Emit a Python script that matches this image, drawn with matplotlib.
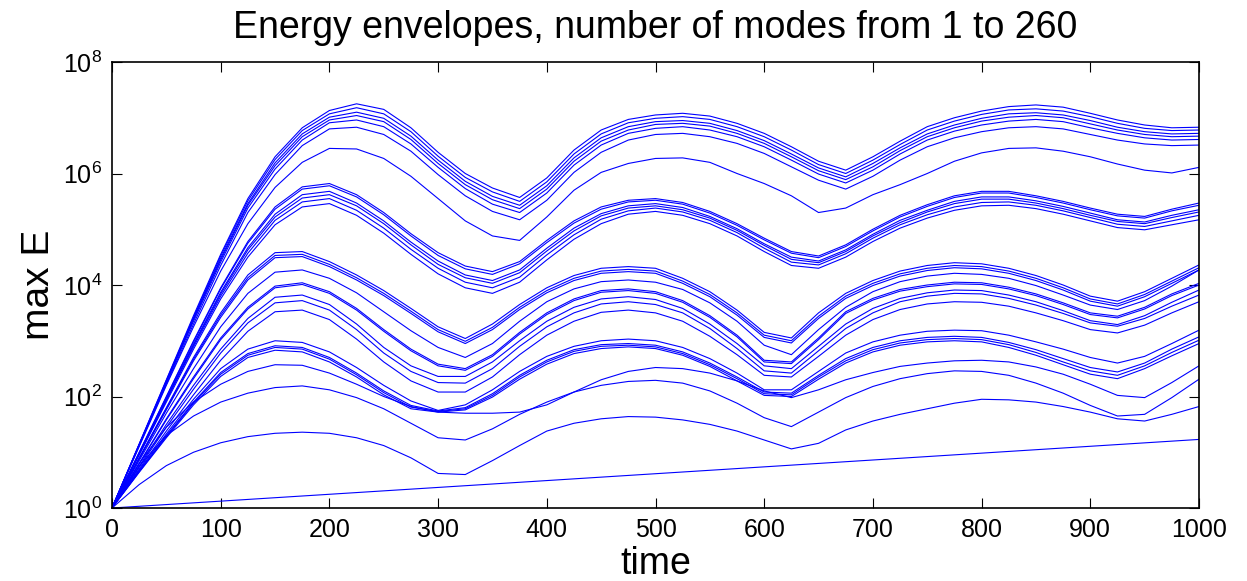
import numpy as np
import matplotlib
matplotlib.use("Agg")
from matplotlib import pyplot as plt

plt.rcParams["font.family"] = ["Liberation Sans", "DejaVu Sans"]

# sample times shared by every envelope
t = np.arange(0, 1001, 25)

# log10 of the energy envelopes, one list per mode, sampled at t
top_bundle = [
    [0, 1.15, 2.3, 3.45, 4.55, 5.55, 6.3, 6.82, 7.13, 7.25, 7.15, 6.82, 6.38, 6.0, 5.74, 5.57, 5.92, 6.42, 6.78, 6.97,
     7.05, 7.08, 7.03, 6.9, 6.72, 6.48, 6.22, 6.06, 6.3, 6.58, 6.84, 7.0, 7.12, 7.2, 7.23, 7.19, 7.08, 6.96, 6.87, 6.82, 6.83],
    [0, 1.14, 2.29, 3.42, 4.52, 5.51, 6.25, 6.77, 7.07, 7.18, 7.07, 6.75, 6.31, 5.93, 5.67, 5.50, 5.85, 6.35, 6.71, 6.91,
     6.99, 7.02, 6.97, 6.84, 6.66, 6.42, 6.16, 6.0, 6.24, 6.52, 6.78, 6.94, 7.06, 7.14, 7.16, 7.12, 7.02, 6.90, 6.81, 6.77, 6.78],
    [0, 1.14, 2.27, 3.40, 4.48, 5.46, 6.19, 6.71, 7.01, 7.10, 6.99, 6.67, 6.24, 5.86, 5.59, 5.43, 5.78, 6.28, 6.64, 6.84,
     6.93, 6.95, 6.90, 6.77, 6.59, 6.35, 6.10, 5.94, 6.18, 6.46, 6.71, 6.87, 6.99, 7.07, 7.09, 7.05, 6.95, 6.83, 6.75, 6.71, 6.72],
    [0, 1.13, 2.26, 3.38, 4.45, 5.43, 6.14, 6.66, 6.96, 7.04, 6.93, 6.61, 6.18, 5.80, 5.53, 5.37, 5.72, 6.22, 6.58, 6.78,
     6.88, 6.90, 6.85, 6.72, 6.54, 6.30, 6.05, 5.89, 6.12, 6.41, 6.66, 6.82, 6.94, 7.01, 7.04, 7.0, 6.89, 6.78, 6.70, 6.66, 6.67],
    [0, 1.13, 2.25, 3.35, 4.41, 5.38, 6.08, 6.60, 6.91, 6.96, 6.84, 6.53, 6.11, 5.73, 5.45, 5.30, 5.65, 6.15, 6.51, 6.72,
     6.81, 6.84, 6.78, 6.66, 6.48, 6.24, 5.99, 5.83, 6.06, 6.35, 6.60, 6.76, 6.87, 6.94, 6.97, 6.93, 6.82, 6.72, 6.64, 6.60, 6.61],
    [0, 1.12, 2.22, 3.3, 4.35, 5.3, 5.98, 6.5, 6.8, 6.83, 6.7, 6.4, 5.98, 5.6, 5.32, 5.17, 5.52, 6.02, 6.38, 6.6,
     6.7, 6.72, 6.66, 6.54, 6.36, 6.12, 5.88, 5.72, 5.95, 6.24, 6.48, 6.64, 6.75, 6.82, 6.84, 6.8, 6.7, 6.6, 6.53, 6.5, 6.51],
]
top_single = [0, 1.1, 2.2, 3.25, 4.25, 5.1, 5.75, 6.2, 6.45, 6.44, 6.27, 5.95, 5.55, 5.15, 4.88, 4.8, 5.22, 5.7, 6.02, 6.18,
              6.27, 6.28, 6.2, 6.0, 5.82, 5.6, 5.3, 5.38, 5.62, 5.8, 6.0, 6.22, 6.37, 6.45, 6.46, 6.4, 6.3, 6.17, 6.06, 6.01, 6.11]

second_bundle = [
    [0, 1.0, 2.0, 3.0, 3.95, 4.78, 5.4, 5.76, 5.82, 5.62, 5.3, 4.92, 4.58, 4.34, 4.24, 4.42, 4.8, 5.15, 5.4, 5.52,
     5.55, 5.48, 5.32, 5.1, 4.84, 4.6, 4.52, 4.72, 5.0, 5.25, 5.44, 5.6, 5.68, 5.68, 5.6, 5.5, 5.38, 5.27, 5.23, 5.36, 5.47],
    [0, 0.99, 1.99, 2.98, 3.93, 4.75, 5.36, 5.72, 5.78, 5.58, 5.26, 4.88, 4.53, 4.29, 4.19, 4.38, 4.76, 5.11, 5.36, 5.49,
     5.52, 5.45, 5.29, 5.07, 4.81, 4.57, 4.49, 4.69, 4.97, 5.22, 5.41, 5.57, 5.65, 5.65, 5.57, 5.47, 5.35, 5.24, 5.20, 5.33, 5.43],
    [0, 0.98, 1.96, 2.94, 3.87, 4.67, 5.27, 5.62, 5.68, 5.47, 5.15, 4.77, 4.43, 4.18, 4.08, 4.27, 4.66, 5.02, 5.28, 5.42,
     5.46, 5.39, 5.23, 5.01, 4.74, 4.5, 4.43, 4.63, 4.91, 5.16, 5.34, 5.50, 5.58, 5.58, 5.51, 5.41, 5.29, 5.17, 5.13, 5.25, 5.35],
    [0, 0.97, 1.95, 2.92, 3.84, 4.63, 5.22, 5.56, 5.62, 5.42, 5.10, 4.72, 4.37, 4.13, 4.03, 4.22, 4.61, 4.97, 5.24, 5.38,
     5.42, 5.35, 5.2, 4.98, 4.71, 4.46, 4.4, 4.6, 4.88, 5.12, 5.31, 5.46, 5.54, 5.54, 5.47, 5.37, 5.25, 5.14, 5.10, 5.21, 5.31],
    [0, 0.96, 1.93, 2.89, 3.8, 4.57, 5.16, 5.49, 5.55, 5.34, 5.02, 4.64, 4.30, 4.05, 3.95, 4.14, 4.54, 4.90, 5.18, 5.33,
     5.38, 5.31, 5.16, 4.94, 4.66, 4.41, 4.36, 4.56, 4.84, 5.08, 5.26, 5.40, 5.48, 5.49, 5.43, 5.33, 5.21, 5.09, 5.05, 5.15, 5.25],
    [0, 0.95, 1.9, 2.85, 3.75, 4.5, 5.08, 5.4, 5.46, 5.25, 4.93, 4.55, 4.2, 3.95, 3.85, 4.05, 4.45, 4.82, 5.1, 5.27,
     5.32, 5.25, 5.1, 4.88, 4.6, 4.35, 4.3, 4.5, 4.78, 5.02, 5.2, 5.34, 5.42, 5.43, 5.37, 5.27, 5.15, 5.03, 4.99, 5.08, 5.17],
]

third_bundle = [
    [0, 0.9, 1.8, 2.7, 3.5, 4.18, 4.58, 4.6, 4.42, 4.18, 3.9, 3.58, 3.25, 3.04, 3.3, 3.65, 3.95, 4.17, 4.3, 4.33,
     4.3, 4.12, 3.88, 3.55, 3.15, 3.05, 3.5, 3.85, 4.08, 4.25, 4.35, 4.4, 4.38, 4.3, 4.17, 4.0, 3.8, 3.71, 3.88, 4.12, 4.36],
    [0, 0.89, 1.78, 2.67, 3.46, 4.13, 4.53, 4.55, 4.37, 4.13, 3.85, 3.53, 3.2, 2.99, 3.24, 3.6, 3.9, 4.12, 4.25, 4.28,
     4.25, 4.07, 3.83, 3.5, 3.1, 3.0, 3.44, 3.8, 4.03, 4.2, 4.3, 4.35, 4.33, 4.25, 4.12, 3.95, 3.75, 3.66, 3.83, 4.07, 4.31],
    [0, 0.88, 1.76, 2.64, 3.42, 4.09, 4.49, 4.51, 4.33, 4.09, 3.81, 3.49, 3.16, 2.95, 3.2, 3.56, 3.86, 4.08, 4.21, 4.24,
     4.21, 4.03, 3.79, 3.46, 3.06, 2.96, 3.4, 3.76, 3.99, 4.16, 4.26, 4.31, 4.29, 4.21, 4.08, 3.91, 3.71, 3.62, 3.79, 4.03, 4.27],
    [0, 0.85, 1.7, 2.5, 3.25, 3.85, 4.23, 4.27, 4.12, 3.86, 3.52, 3.18, 2.88, 2.7, 2.95, 3.35, 3.7, 3.93, 4.06, 4.09,
     4.05, 3.92, 3.68, 3.35, 2.92, 2.75, 3.2, 3.6, 3.88, 4.06, 4.16, 4.21, 4.19, 4.12, 3.99, 3.82, 3.64, 3.56, 3.72, 3.98, 4.27],
    [0, 0.8, 1.6, 2.35, 3.05, 3.6, 3.98, 4.04, 3.88, 3.58, 3.2, 2.85, 2.58, 2.5, 2.75, 3.15, 3.5, 3.75, 3.9, 3.93,
     3.88, 3.72, 3.45, 3.1, 2.65, 2.62, 3.05, 3.52, 3.76, 3.92, 4.0, 4.05, 4.04, 3.96, 3.84, 3.68, 3.5, 3.44, 3.6, 3.84, 4.03],
    [0, 0.79, 1.58, 2.32, 3.02, 3.57, 3.95, 4.01, 3.85, 3.55, 3.17, 2.82, 2.55, 2.47, 2.72, 3.12, 3.47, 3.72, 3.87, 3.9,
     3.85, 3.69, 3.42, 3.07, 2.62, 2.59, 3.02, 3.49, 3.73, 3.89, 3.97, 4.02, 4.01, 3.93, 3.81, 3.65, 3.47, 3.41, 3.57, 3.81, 4.0],
    [0, 0.75, 1.5, 2.2, 2.85, 3.4, 3.78, 3.82, 3.65, 3.3, 2.88, 2.55, 2.36, 2.36, 2.62, 3.0, 3.35, 3.6, 3.75, 3.79,
     3.74, 3.58, 3.3, 2.95, 2.55, 2.5, 2.9, 3.3, 3.58, 3.76, 3.86, 3.91, 3.9, 3.82, 3.7, 3.54, 3.36, 3.29, 3.45, 3.69, 3.91],
    [0, 0.73, 1.45, 2.13, 2.78, 3.32, 3.68, 3.72, 3.55, 3.2, 2.78, 2.45, 2.25, 2.24, 2.5, 2.9, 3.25, 3.5, 3.66, 3.7,
     3.65, 3.5, 3.22, 2.86, 2.46, 2.42, 2.82, 3.22, 3.5, 3.7, 3.8, 3.85, 3.84, 3.76, 3.64, 3.49, 3.32, 3.26, 3.4, 3.62, 3.82],
    [0, 0.7, 1.38, 2.03, 2.65, 3.17, 3.52, 3.55, 3.38, 3.03, 2.62, 2.28, 2.08, 2.08, 2.35, 2.75, 3.1, 3.35, 3.51, 3.55,
     3.5, 3.35, 3.08, 2.75, 2.38, 2.35, 2.72, 3.1, 3.38, 3.56, 3.66, 3.7, 3.69, 3.62, 3.5, 3.36, 3.2, 3.14, 3.28, 3.5, 3.7],
]

fourth_bundle = [
    [0, 0.68, 1.33, 1.95, 2.5, 2.85, 3.0, 2.97, 2.8, 2.52, 2.2, 1.92, 1.75, 1.85, 2.12, 2.45, 2.72, 2.9, 3.0, 3.03,
     3.0, 2.88, 2.68, 2.42, 2.12, 2.12, 2.45, 2.78, 2.98, 3.1, 3.17, 3.19, 3.18, 3.1, 2.98, 2.85, 2.7, 2.6, 2.72, 2.95, 3.19],
    [0, 0.66, 1.3, 1.9, 2.43, 2.77, 2.91, 2.88, 2.7, 2.42, 2.1, 1.84, 1.74, 1.8, 2.05, 2.38, 2.65, 2.84, 2.93, 2.95,
     2.92, 2.8, 2.6, 2.35, 2.08, 2.06, 2.38, 2.68, 2.88, 3.0, 3.06, 3.08, 3.06, 2.97, 2.84, 2.68, 2.52, 2.44, 2.6, 2.85, 3.07],
    [0, 0.65, 1.28, 1.88, 2.4, 2.74, 2.88, 2.85, 2.67, 2.39, 2.07, 1.81, 1.73, 1.78, 2.02, 2.35, 2.62, 2.81, 2.9, 2.92,
     2.89, 2.77, 2.57, 2.32, 2.05, 2.03, 2.35, 2.64, 2.84, 2.96, 3.02, 3.04, 3.02, 2.93, 2.79, 2.62, 2.46, 2.38, 2.55, 2.79, 3.01],
    [0, 0.64, 1.26, 1.85, 2.36, 2.7, 2.83, 2.8, 2.62, 2.35, 2.03, 1.78, 1.72, 1.76, 1.99, 2.31, 2.58, 2.77, 2.86, 2.89,
     2.86, 2.74, 2.54, 2.28, 2.02, 2.0, 2.31, 2.6, 2.8, 2.92, 2.98, 3.0, 2.98, 2.88, 2.74, 2.57, 2.4, 2.32, 2.5, 2.73, 2.95],
]

low_modes = [
    [0, 0.8, 1.45, 1.9, 2.22, 2.45, 2.57, 2.56, 2.42, 2.22, 2.0, 1.82, 1.72, 1.7, 1.7, 1.72, 1.85, 2.08, 2.3, 2.45,
     2.52, 2.5, 2.42, 2.28, 2.1, 1.98, 2.12, 2.3, 2.43, 2.54, 2.6, 2.64, 2.65, 2.62, 2.53, 2.4, 2.22, 2.02, 1.98, 2.25, 2.55],
    [0, 0.75, 1.3, 1.65, 1.9, 2.06, 2.16, 2.19, 2.12, 1.98, 1.78, 1.52, 1.26, 1.22, 1.42, 1.68, 1.9, 2.08, 2.2, 2.27,
     2.29, 2.24, 2.1, 1.88, 1.62, 1.46, 1.72, 1.98, 2.18, 2.32, 2.41, 2.46, 2.45, 2.38, 2.24, 2.06, 1.84, 1.65, 1.68, 1.98, 2.31],
    [0, 0.42, 0.76, 1.0, 1.17, 1.28, 1.34, 1.36, 1.34, 1.26, 1.12, 0.9, 0.62, 0.6, 0.85, 1.12, 1.38, 1.52, 1.6, 1.64,
     1.63, 1.58, 1.5, 1.38, 1.22, 1.06, 1.16, 1.4, 1.56, 1.68, 1.78, 1.88, 1.95, 1.94, 1.9, 1.82, 1.72, 1.6, 1.56, 1.68, 1.82],
]

# the first mode grows steadily
t_first = [0, 1000]
first_mode = [0, 1.23]

fig = plt.figure(figsize=(12.47, 5.81), dpi=100)
ax = fig.add_axes([112 / 1247, 73 / 581, 1087 / 1247, 446 / 581])

for group in (top_bundle, [top_single], second_bundle, third_bundle, fourth_bundle, low_modes):
    for logE in group:
        ax.semilogy(t, 10.0 ** np.array(logE), color="blue", lw=0.8)
ax.semilogy(t_first, 10.0 ** np.array(first_mode), color="blue", lw=0.8)

ax.set_xlim(0, 1000)
ax.set_ylim(1, 1e8)
ax.set_xticks(np.arange(0, 1001, 100))
ax.set_yticks([1e0, 1e2, 1e4, 1e6, 1e8])
ax.minorticks_off()
ax.tick_params(direction="in", length=7, width=0.8, top=True, right=True, labelsize=18, pad=7)
for s in ax.spines.values():
    s.set_linewidth(1.2)

ax.set_title("Energy envelopes, number of modes from 1 to 260", fontsize=27, pad=17)
ax.set_xlabel("time", fontsize=27, labelpad=3)
ax.set_ylabel("max E", fontsize=28, labelpad=4)

fig.savefig("out.png", dpi=100)
